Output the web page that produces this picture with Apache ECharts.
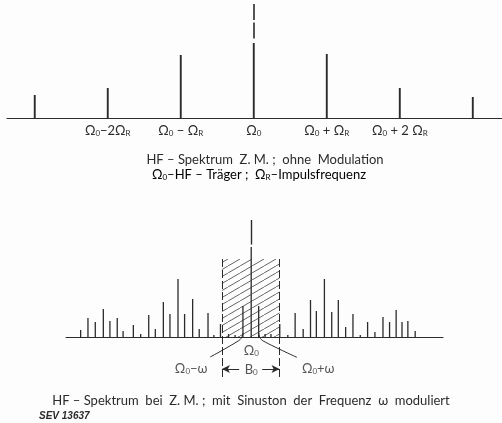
<!DOCTYPE html>
<html>
<head>
<meta charset="utf-8">
<script src="https://cdn.jsdelivr.net/npm/echarts@6.0.0/dist/echarts.min.js"></script>
<style>
html, body { margin: 0; padding: 0; background: #fdfdfd; }
#charts { width: 502px; height: 423px; }
</style>
</head>
<body>
<div id="charts"></div>
<script>
// upper spectrum: x in units of Omega_R, amplitude in arbitrary units
var topPos = [-3, -2, -1, 0, 1, 2, 3];
var topAmp = [23, 30, 63, 75, 64, 30, 21];
var topTicks = [-2, -1, 0, 1, 2];
var topTickLabels = [
    '{m|Ω}{s|0}{m|−2Ω}{s|R}',
    '{m|Ω}{s|0}{m| − Ω}{s|R}',
    '{m|Ω}{s|0}',
    '{m|Ω}{s|0}{m| + Ω}{s|R}',
    '{m|Ω}{s|0}{m| + 2 Ω}{s|R}'
];

// lower spectrum: x in units of Omega_R / 10
var botPos = [-23.3, -22.3, -21.3, -20.2, -19.3, -18.3, -17.5, -16.1, -15.1, -14.0, -13.1, -12.0,
    -11.1, -10.0, -9.1, -8.0, -7.1, -5.9, -5.1, -4.2, -3.1, -2.2, -1.13, 0, 1.02, 1.9, 2.7, 3.9,
    5.0, 6.0, 7.1, 8.1, 8.9, 10.0, 11.0, 11.9, 12.9, 13.9, 14.9, 15.9, 16.9, 18.0, 18.9, 19.8,
    20.6, 21.4, 22.4];
var botAmp = [7, 19, 15, 28, 16, 19, 6, 12, 3, 22, 8, 35,
    23, 58, 23, 38, 8, 24, 2, 13, 3, 2, 31, 90, 31, 3, 3, 13,
    2, 24, 8, 37, 26, 58, 25, 37, 10, 23, 2, 15, 5, 20, 15, 27,
    15, 16, 6];
var bandEdges = [-4.0, 3.87];
var bandTop = 78;
var leftHook = [[-1.13, 4], [-1.3, -0.5], [-1.78, -4], [-5.6, -20]];
var rightHook = [[1.02, 4], [1.19, -0.5], [1.64, -4], [6.24, -20.3]];
var notes = [
    { name: '{m|Ω}{s|0}', value: [0, -13] },
    { name: '{m|Ω}{s|0}{m|−ω}', value: [-8.2, -31] },
    { name: '{m|B}{s|0}', value: [0, -32] },
    { name: '{m|Ω}{s|0}{m|+ω}', value: [9.15, -31] }
];

var ink = '#2b2b2b';
var font = 'Lato';
var rich = {
    m: { fontSize: 13, fontFamily: font, color: ink, lineHeight: 15, verticalAlign: 'bottom' },
    s: { fontSize: 8, fontFamily: font, color: ink, lineHeight: 11, verticalAlign: 'bottom' }
};

function hatch() {
    var c = document.createElement('canvas');
    c.width = 12; c.height = 7;
    var g = c.getContext('2d');
    g.strokeStyle = '#555';
    g.lineWidth = 0.9;
    g.beginPath();
    g.moveTo(-1.2, 7.7);
    g.lineTo(13.2, -0.7);
    g.stroke();
    return c;
}

function seg(a, b, style, sym) {
    return [
        { coord: a, lineStyle: style, symbol: 'none' },
        { coord: b, lineStyle: style, symbol: sym || 'none' }
    ];
}

var myChart = echarts.init(document.getElementById('charts'));
var option = {
    backgroundColor: '#fdfdfd',
    animation: false,
    grid: [
        { left: 7, right: 0, top: 4, height: 114 },
        { left: 66, right: 59, top: 220, height: 157 }
    ],
    xAxis: [
        {
            gridIndex: 0, type: 'value', min: -3.38, max: 3.4,
            splitLine: { show: false },
            axisTick: { show: false },
            axisLine: { lineStyle: { color: ink, width: 1.2 } },
            axisLabel: {
                customValues: topTicks,
                margin: 4,
                formatter: function (v) { return topTickLabels[topTicks.indexOf(v)]; },
                rich: rich
            }
        },
        {
            gridIndex: 1, type: 'value', min: -25.3, max: 26.2,
            splitLine: { show: false },
            axisTick: { show: false },
            axisLabel: { show: false },
            axisLine: { onZero: true, lineStyle: { color: ink, width: 1.1 } }
        }
    ],
    yAxis: [
        { gridIndex: 0, type: 'value', min: 0, max: 114, show: false },
        { gridIndex: 1, type: 'value', min: -40, max: 117, show: false }
    ],
    series: [
        {
            type: 'bar', xAxisIndex: 0, yAxisIndex: 0, barWidth: 1.9,
            itemStyle: { color: ink },
            data: topPos.map(function (x, i) { return [x, topAmp[i]]; }),
            markLine: {
                silent: true, symbol: 'none', label: { show: false },
                data: [seg([0, 114], [0, 77.5], { color: ink, width: 1.6, type: [16, 2.5] })]
            }
        },
        {
            type: 'bar', xAxisIndex: 1, yAxisIndex: 1, barWidth: 1.3, clip: false,
            itemStyle: { color: ink },
            data: botPos.map(function (x, i) { return [x, botAmp[i]]; }),
            markArea: {
                silent: true,
                itemStyle: { color: { image: hatch(), repeat: 'repeat' } },
                data: [[{ coord: [bandEdges[0], 0] }, { coord: [bandEdges[1], bandTop] }]]
            },
            markLine: {
                silent: true, symbolSize: [6, 8], label: { show: false },
                data: [
                    seg([bandEdges[0], bandTop], [bandEdges[0], -40], { color: ink, width: 1, type: [8, 3] }),
                    seg([bandEdges[1], bandTop], [bandEdges[1], -40], { color: ink, width: 1, type: [8, 3] }),
                    seg([0, 92.5], [0, 117], { color: ink, width: 1.4, type: 'solid' }),
                    seg([-1.64, -32], [bandEdges[0], -32], { color: ink, width: 1, type: 'solid' }, 'arrow'),
                    seg([1.5, -32], [bandEdges[1], -32], { color: ink, width: 1, type: 'solid' }, 'arrow')
                ]
            }
        },
        {
            type: 'line', xAxisIndex: 1, yAxisIndex: 1, smooth: 0.4, showSymbol: false, silent: true,
            lineStyle: { color: ink, width: 1 }, data: leftHook
        },
        {
            type: 'line', xAxisIndex: 1, yAxisIndex: 1, smooth: 0.4, showSymbol: false, silent: true,
            lineStyle: { color: ink, width: 1 }, data: rightHook
        },
        {
            type: 'scatter', xAxisIndex: 1, yAxisIndex: 1, symbolSize: 0, silent: true,
            label: {
                show: true, position: 'inside',
                formatter: function (p) { return p.name; },
                rich: rich
            },
            data: notes
        }
    ],
    graphic: [
        {
            type: 'text', x: 265, y: 160,
            style: { text: 'HF – Spektrum  Z. M. ;  ohne  Modulation', align: 'center', textAlign: 'center',
                verticalAlign: 'middle', textVerticalAlign: 'middle', font: '13px Lato', fill: ink }
        },
        {
            type: 'text', x: 259, y: 174,
            style: { text: '{m|Ω}{s|0}{m|–HF – Träger ;  Ω}{s|R}{m|–Impulsfrequenz}', rich: rich,
                align: 'center', textAlign: 'center', verticalAlign: 'middle', textVerticalAlign: 'middle' }
        },
        {
            type: 'text', x: 251, y: 401,
            style: { text: 'HF – Spektrum  bei  Z. M. ;  mit  Sinuston  der  Frequenz  ω  moduliert',
                align: 'center', textAlign: 'center', verticalAlign: 'middle', textVerticalAlign: 'middle',
                font: '13px Lato', fill: ink }
        },
        {
            type: 'text', x: 39, y: 416,
            style: { text: 'SEV 13637', align: 'left', textAlign: 'left', verticalAlign: 'middle',
                textVerticalAlign: 'middle', font: 'italic bold 10px "Liberation Sans"', fill: ink }
        }
    ]
};

myChart.setOption(option);
</script>
</body>
</html>
